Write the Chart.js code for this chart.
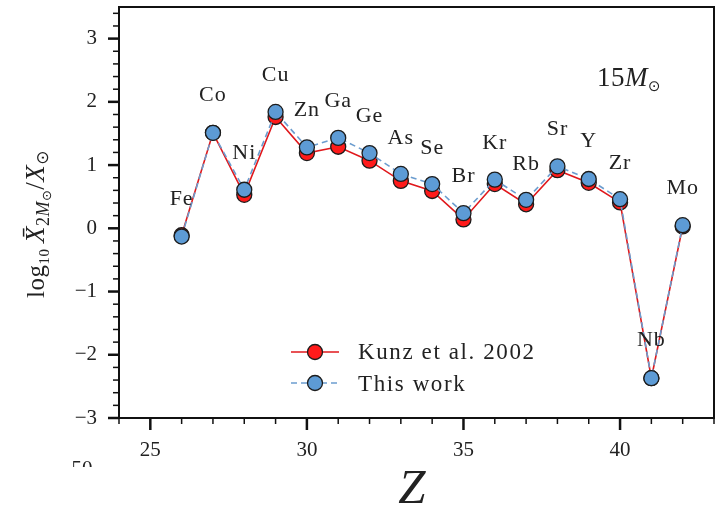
<!DOCTYPE html>
<html lang="en">
<head>
<meta charset="UTF-8">
<title>Abundances 15 Msun</title>
<script src="https://cdn.jsdelivr.net/npm/chart.js"></script>
<style>
  body { margin: 0; background: #fff; }
</style>
</head>
<body>
<canvas id="abund" width="718" height="509"></canvas>
<script>
// element symbols and atomic numbers
const elements = ['Fe', 'Co', 'Ni', 'Cu', 'Zn', 'Ga', 'Ge', 'As', 'Se', 'Br', 'Kr', 'Rb', 'Sr', 'Y', 'Zr', 'Nb', 'Mo'];
const zValues = [26, 27, 28, 29, 30, 31, 32, 33, 34, 35, 36, 37, 38, 39, 40, 41, 42];

// log10 overproduction factors
const kunz2002 = [-0.11, 1.51, 0.53, 1.76, 1.19, 1.29, 1.07, 0.75, 0.59, 0.14, 0.70, 0.38, 0.92, 0.72, 0.41, -2.37, 0.03];
const thisWork = [-0.13, 1.51, 0.61, 1.84, 1.28, 1.43, 1.19, 0.86, 0.70, 0.24, 0.77, 0.45, 0.98, 0.78, 0.46, -2.37, 0.05];

const xTicks = [25, 30, 35, 40];
const yTicks = [-3, -2, -1, 0, 1, 2, 3];

// where each element symbol is written (data units, vertical centre)
const labelY = [0.48, 2.13, 1.21, 2.44, 1.89, 2.03, 1.79, 1.44, 1.29, 0.84, 1.37, 1.04, 1.59, 1.40, 1.05, -1.75, 0.66];

const SERIF = '"Liberation Serif", "Times New Roman", serif';
const RED = '#ff1a1a';
const RED_LINE = '#e0181c';
const BLUE = '#5d9bd5';
const BLUE_LINE = '#6c9dcf';
const EDGE = '#1c1c1c';

function toPoints(vals) {
  return zValues.map((z, i) => ({ x: z, y: vals[i] }));
}

function marker(ctx, x, y, fill) {
  ctx.beginPath();
  ctx.arc(x, y, 7.5, 0, Math.PI * 2);
  ctx.fillStyle = fill;
  ctx.fill();
  ctx.lineWidth = 1.3;
  ctx.strokeStyle = EDGE;
  ctx.stroke();
}

function drawRun(ctx, x, y, parts, align) {
  // parts: [text, font, dy]
  let w = 0;
  parts.forEach(p => { ctx.font = p[1]; w += ctx.measureText(p[0]).width; });
  let cx = align === 'center' ? x - w / 2 : x;
  parts.forEach(p => {
    ctx.font = p[1];
    ctx.fillText(p[0], cx, y + (p[2] || 0));
    cx += ctx.measureText(p[0]).width;
  });
  return w;
}

const decorations = {
  id: 'decorations',
  afterDraw(chart) {
    const ctx = chart.ctx;
    const { left, right, top, bottom } = chart.chartArea;
    const xs = chart.scales.x, ys = chart.scales.y;
    ctx.save();

    // frame
    ctx.strokeStyle = '#111';
    ctx.lineWidth = 2;
    ctx.strokeRect(left, top, right - left, bottom - top);

    // y ticks, major every 1, minor every 0.2
    for (let k = -15; k <= 17; k++) {
      const v = k / 5;
      const py = ys.getPixelForValue(v);
      const major = k % 5 === 0;
      ctx.lineWidth = major ? 2.5 : 1.5;
      ctx.beginPath();
      ctx.moveTo(left, py);
      ctx.lineTo(left - (major ? 11 : 6), py);
      ctx.stroke();
    }
    // x ticks, major every 5, minor every 1
    for (let z = 24; z <= 43; z++) {
      const px = xs.getPixelForValue(z);
      const major = z % 5 === 0;
      ctx.lineWidth = major ? 2.5 : 1.5;
      ctx.beginPath();
      ctx.moveTo(px, bottom);
      ctx.lineTo(px, bottom + (major ? 12 : 6));
      ctx.stroke();
    }

    // element symbols
    ctx.fillStyle = '#222';
    ctx.textAlign = 'center';
    ctx.textBaseline = 'alphabetic';
    ctx.font = '22px ' + SERIF;
    ctx.letterSpacing = '1px';
    elements.forEach((el, i) => {
      ctx.fillText(el, xs.getPixelForValue(zValues[i]), ys.getPixelForValue(labelY[i]) + 7);
    });

    // mass label
    ctx.textAlign = 'left';
    ctx.letterSpacing = '0.5px';
    drawRun(ctx, right - 117, top + 79, [
      ['15', '27px ' + SERIF],
      ['M', 'italic 27px ' + SERIF],
      ['\u2299', '15px "DejaVu Sans"', 5]
    ], 'left');

    // legend
    const lx0 = 291, lx1 = 339, lm = 315;
    const ly = [352, 383];
    ctx.lineWidth = 1.6;
    ctx.strokeStyle = RED_LINE;
    ctx.beginPath(); ctx.moveTo(lx0, ly[0]); ctx.lineTo(lx1, ly[0]); ctx.stroke();
    marker(ctx, lm, ly[0], RED);
    ctx.strokeStyle = BLUE_LINE;
    ctx.setLineDash([6, 4]);
    ctx.beginPath(); ctx.moveTo(lx0, ly[1]); ctx.lineTo(lx1, ly[1]); ctx.stroke();
    ctx.setLineDash([]);
    marker(ctx, lm, ly[1], BLUE);
    ctx.fillStyle = '#222';
    ctx.font = '23px ' + SERIF;
    ctx.letterSpacing = '1.6px';
    ctx.fillText('Kunz et al. 2002', 358, ly[0] + 7);
    ctx.fillText('This work', 358, ly[1] + 8);
    ctx.letterSpacing = '0px';

    // x title
    ctx.textAlign = 'center';
    ctx.font = 'italic 49px ' + SERIF;
    ctx.fillText('Z', 412, 503);

    // y title, rotated
    ctx.save();
    ctx.translate(44, 224);
    ctx.rotate(-Math.PI / 2);
    ctx.textAlign = 'left';
    ctx.letterSpacing = '0.5px';
    const parts = [
      ['log', '25px ' + SERIF],
      ['10', '15px ' + SERIF, 5],
      ['\u2009', '25px ' + SERIF],
      ['X\u0304', 'italic 27px ' + SERIF],
      ['2', '18px ' + SERIF, 5],
      ['M', 'italic 18px ' + SERIF, 5],
      ['\u2299', '13px "DejaVu Sans"', 7],
      ['/', '27px ' + SERIF],
      ['X', 'italic 27px ' + SERIF],
      ['\u2299', '17px "DejaVu Sans"', 4]
    ];
    drawRun(ctx, 0, 0, parts, 'center');
    ctx.restore();

    // clipped label peeking out below the axis
    ctx.save();
    ctx.beginPath();
    ctx.rect(60, 455, 45, 12);
    ctx.clip();
    ctx.font = '21px ' + SERIF;
    ctx.fillText('50', 82, 475);
    ctx.restore();

    ctx.restore();
  }
};

new Chart(document.getElementById('abund'), {
  type: 'line',
  data: {
    datasets: [
      {
        label: 'Kunz et al. 2002',
        data: toPoints(kunz2002),
        borderColor: RED_LINE,
        borderWidth: 1.6,
        pointRadius: 7.5,
        pointBackgroundColor: RED,
        pointBorderColor: EDGE,
        pointBorderWidth: 1.3,
        tension: 0,
        order: 1
      },
      {
        label: 'This work',
        data: toPoints(thisWork),
        borderColor: BLUE_LINE,
        borderWidth: 1.6,
        borderDash: [6, 4],
        pointRadius: 7.5,
        pointBackgroundColor: BLUE,
        pointBorderColor: EDGE,
        pointBorderWidth: 1.3,
        tension: 0,
        order: 0
      }
    ]
  },
  options: {
    responsive: false,
    animation: false,
    devicePixelRatio: 1,
    layout: { autoPadding: false, padding: { left: 0, top: 7, right: 4, bottom: 0 } },
    plugins: { legend: { display: false }, tooltip: { enabled: false } },
    scales: {
      x: {
        type: 'linear',
        min: 24,
        max: 43,
        grid: { display: false, drawTicks: false },
        border: { display: false },
        afterBuildTicks: s => { s.ticks = xTicks.map(v => ({ value: v })); },
        afterFit: s => { s.height = 91; s.paddingLeft = 0; s.paddingRight = 0; },
        ticks: {
          font: { family: SERIF, size: 21 },
          color: '#222',
          padding: 20,
          maxRotation: 0,
          callback: v => String(v)
        }
      },
      y: {
        min: -3,
        max: 3.5,
        grid: { display: false, drawTicks: false },
        border: { display: false },
        afterBuildTicks: s => { s.ticks = yTicks.map(v => ({ value: v })); },
        afterFit: s => { s.width = 119; s.paddingTop = 0; s.paddingBottom = 0; },
        ticks: {
          font: { family: SERIF, size: 21 },
          color: '#222',
          padding: 22,
          callback: v => (v < 0 ? '\u2212' + Math.abs(v) : String(v))
        }
      }
    }
  },
  plugins: [decorations]
});
</script>
</body>
</html>
